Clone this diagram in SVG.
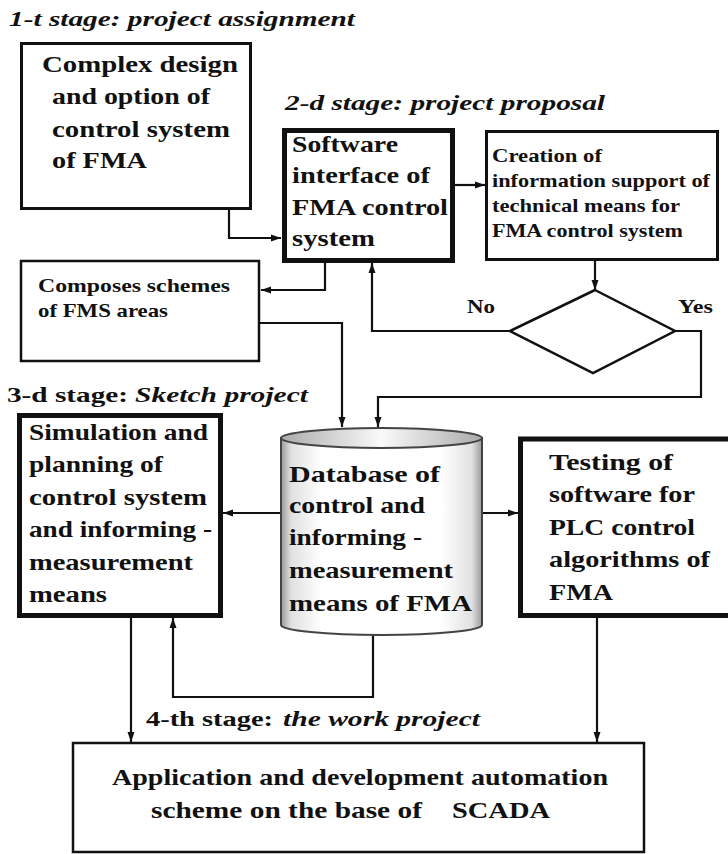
<svg xmlns="http://www.w3.org/2000/svg" width="728" height="854" viewBox="0 0 728 854">
<style>
.t{font-family:"Liberation Serif",serif;font-weight:bold;fill:#111;}
.i{font-style:italic;}
.box{fill:#fff;stroke:#111;}
.c{fill:none;stroke:#111;stroke-width:2.2;}
</style>
<defs>
<marker id="ah" markerUnits="userSpaceOnUse" markerWidth="10" markerHeight="10" viewBox="0 0 10 10" refX="10" refY="5" orient="auto">
<path d="M0,1.5 L10,5 L0,8.5 Z" fill="#111"/>
</marker>
<linearGradient id="body" x1="0" y1="0" x2="1" y2="0">
<stop offset="0" stop-color="#9a9a9a"/>
<stop offset="0.05" stop-color="#e0e0e0"/>
<stop offset="0.2" stop-color="#fff"/>
<stop offset="0.8" stop-color="#fff"/>
<stop offset="0.95" stop-color="#e0e0e0"/>
<stop offset="1" stop-color="#9a9a9a"/>
</linearGradient>
<linearGradient id="top" x1="0" y1="0" x2="1" y2="0">
<stop offset="0" stop-color="#aaa"/>
<stop offset="0.5" stop-color="#fafafa"/>
<stop offset="1" stop-color="#aaa"/>
</linearGradient>
</defs>

<g id="titles">
<text class="t i" x="9" y="26" font-size="20" textLength="346" lengthAdjust="spacingAndGlyphs">1-t stage: project assignment</text>
<text class="t i" x="285" y="110" font-size="20" textLength="320" lengthAdjust="spacingAndGlyphs">2-d stage: project proposal</text>
<text class="t" y="402" font-size="21"><tspan x="7" textLength="121" lengthAdjust="spacingAndGlyphs">3-d stage:</tspan> <tspan class="i" x="135" textLength="173" lengthAdjust="spacingAndGlyphs">Sketch project</tspan></text>
<text class="t" y="726" font-size="21"><tspan x="146" textLength="127" lengthAdjust="spacingAndGlyphs">4-th stage:</tspan> <tspan class="i" x="283" textLength="197" lengthAdjust="spacingAndGlyphs">the work project</tspan></text>
</g>

<g id="connectors">
<path class="c" d="M229,210 V238 H281" marker-end="url(#ah)"/>
<path class="c" d="M455,185 H485" marker-end="url(#ah)"/>
<path class="c" d="M595,261 V290" marker-end="url(#ah)"/>
<path class="c" d="M325,263 V290 H261" marker-end="url(#ah)"/>
<path class="c" d="M510,331 H372 V263" marker-end="url(#ah)"/>
<path class="c" d="M675,331 H701 V397 H378 V427" marker-end="url(#ah)"/>
<path class="c" d="M260,323 H342 V427" marker-end="url(#ah)"/>
<path class="c" d="M281,513 H223" marker-end="url(#ah)"/>
<path class="c" d="M482,513 H518" marker-end="url(#ah)"/>
<path class="c" d="M373,634 V697 H173 V618" marker-end="url(#ah)"/>
<path class="c" d="M131,618 V742" marker-end="url(#ah)"/>
<path class="c" d="M597,618 V742" marker-end="url(#ah)"/>
</g>

<g id="complex">
<rect class="box" x="21.5" y="43.5" width="229" height="165" stroke-width="3"/>
<text class="t" font-size="23" x="42" y="72" textLength="196" lengthAdjust="spacingAndGlyphs">Complex design</text>
<text class="t" font-size="23" x="52" y="104" textLength="158" lengthAdjust="spacingAndGlyphs">and option of</text>
<text class="t" font-size="23" x="52" y="137" textLength="178" lengthAdjust="spacingAndGlyphs">control system</text>
<text class="t" font-size="23" x="52" y="168" textLength="95" lengthAdjust="spacingAndGlyphs">of FMA</text>
</g>

<g id="software">
<rect class="box" x="284.5" y="130.5" width="168" height="130" stroke-width="5"/>
<text class="t" font-size="23" x="292" y="152" textLength="106" lengthAdjust="spacingAndGlyphs">Software</text>
<text class="t" font-size="23" x="292" y="183" textLength="138" lengthAdjust="spacingAndGlyphs">interface of</text>
<text class="t" font-size="23" x="292" y="215" textLength="156" lengthAdjust="spacingAndGlyphs">FMA control</text>
<text class="t" font-size="23" x="292" y="246" textLength="83" lengthAdjust="spacingAndGlyphs">system</text>
</g>

<g id="creation">
<rect class="box" x="486.5" y="131.5" width="231" height="128" stroke-width="3"/>
<text class="t" font-size="19" x="492" y="162" textLength="110" lengthAdjust="spacingAndGlyphs">Creation of</text>
<text class="t" font-size="19" x="492" y="187" textLength="218" lengthAdjust="spacingAndGlyphs">information support of</text>
<text class="t" font-size="19" x="492" y="212" textLength="188" lengthAdjust="spacingAndGlyphs">technical means for</text>
<text class="t" font-size="19" x="492" y="237" textLength="191" lengthAdjust="spacingAndGlyphs">FMA control system</text>
</g>

<g id="decision">
<polygon points="595,290 675,331 593,373 510,331" fill="#fff" stroke="#111" stroke-width="2.5"/>
<text class="t" font-size="19" x="467" y="313" textLength="28" lengthAdjust="spacingAndGlyphs">No</text>
<text class="t" font-size="19" x="678" y="313" textLength="35" lengthAdjust="spacingAndGlyphs">Yes</text>
</g>

<g id="composes">
<rect class="box" x="21" y="261" width="238" height="100" stroke-width="2.5"/>
<text class="t" font-size="19" x="38" y="292" textLength="192" lengthAdjust="spacingAndGlyphs">Composes schemes</text>
<text class="t" font-size="19" x="38" y="317" textLength="130" lengthAdjust="spacingAndGlyphs">of FMS areas</text>
</g>

<g id="simulation">
<rect class="box" x="19.5" y="415.5" width="201" height="200" stroke-width="5"/>
<text class="t" font-size="23" x="29" y="440" textLength="179" lengthAdjust="spacingAndGlyphs">Simulation and</text>
<text class="t" font-size="23" x="29" y="472" textLength="134" lengthAdjust="spacingAndGlyphs">planning of</text>
<text class="t" font-size="23" x="29" y="505" textLength="178" lengthAdjust="spacingAndGlyphs">control system</text>
<text class="t" font-size="23" x="29" y="537" textLength="183" lengthAdjust="spacingAndGlyphs">and informing -</text>
<text class="t" font-size="23" x="29" y="570" textLength="164" lengthAdjust="spacingAndGlyphs">measurement</text>
<text class="t" font-size="23" x="29" y="602" textLength="78" lengthAdjust="spacingAndGlyphs">means</text>
</g>

<g id="database">
<path d="M281,438 V625 A100.5,10 0 0 0 482,625 V438 Z" fill="url(#body)" stroke="#444" stroke-width="2"/>
<ellipse cx="381.5" cy="438" rx="100.5" ry="10" fill="url(#top)" stroke="#444" stroke-width="2"/>
<text class="t" font-size="24" x="289" y="482" textLength="151" lengthAdjust="spacingAndGlyphs">Database of</text>
<text class="t" font-size="24" x="289" y="513" textLength="136" lengthAdjust="spacingAndGlyphs">control and</text>
<text class="t" font-size="24" x="289" y="545" textLength="133" lengthAdjust="spacingAndGlyphs">informing -</text>
<text class="t" font-size="24" x="289" y="578" textLength="164" lengthAdjust="spacingAndGlyphs">measurement</text>
<text class="t" font-size="24" x="289" y="611" textLength="183" lengthAdjust="spacingAndGlyphs">means of FMA</text>
</g>

<g id="testing">
<rect class="box" x="520.5" y="439" width="220" height="176.5" stroke-width="5"/>
<text class="t" font-size="23" x="549" y="470" textLength="124" lengthAdjust="spacingAndGlyphs">Testing of</text>
<text class="t" font-size="23" x="549" y="502" textLength="146" lengthAdjust="spacingAndGlyphs">software for</text>
<text class="t" font-size="23" x="549" y="535" textLength="146" lengthAdjust="spacingAndGlyphs">PLC control</text>
<text class="t" font-size="23" x="549" y="567" textLength="161" lengthAdjust="spacingAndGlyphs">algorithms of</text>
<text class="t" font-size="23" x="549" y="600" textLength="64" lengthAdjust="spacingAndGlyphs">FMA</text>
</g>

<g id="application">
<rect class="box" x="73" y="743" width="571" height="109" stroke-width="2.5"/>
<text class="t" font-size="23" x="112" y="785" textLength="496" lengthAdjust="spacingAndGlyphs">Application and development automation</text>
<text class="t" font-size="23" y="818"><tspan x="151" textLength="271" lengthAdjust="spacingAndGlyphs">scheme on the base of</tspan> <tspan x="452" textLength="98" lengthAdjust="spacingAndGlyphs">SCADA</tspan></text>
</g>
</svg>
